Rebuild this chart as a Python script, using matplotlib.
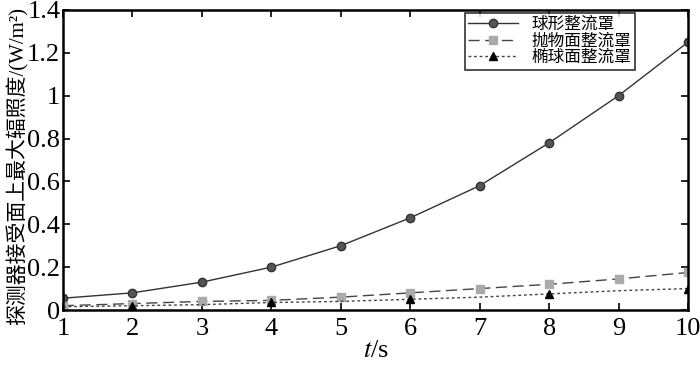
import matplotlib
matplotlib.use('Agg')
import matplotlib.pyplot as plt

plt.rcParams['font.family'] = ['Liberation Serif', 'Noto Sans CJK SC']
plt.rcParams['mathtext.fontset'] = 'stix'

t = [1, 2, 3, 4, 5, 6, 7, 8, 9, 10]
sphere = [0.055, 0.08, 0.13, 0.20, 0.30, 0.43, 0.58, 0.78, 1.00, 1.25]
parab = [0.02, 0.03, 0.04, 0.045, 0.06, 0.08, 0.10, 0.12, 0.145, 0.175]
ellip = [0.015, 0.02, 0.025, 0.035, 0.04, 0.05, 0.06, 0.075, 0.09, 0.10]
yticks = [0, 0.2, 0.4, 0.6, 0.8, 1, 1.2, 1.4]
ylabels = ['0', '0.2', '0.4', '0.6', '0.8', '1', '1.2', '1.4']

fig = plt.figure(figsize=(7, 3.66), dpi=100)
ax = fig.add_axes([0.09, 0.153, 0.893, 0.82])

ax.plot(t, sphere, '-', color='#333333', lw=1, marker='o', ms=6,
        mfc='#555555', mec='#333333', label='球形整流罩')
ax.plot(t, parab, '--', color='#444444', lw=1, dashes=(8, 4), marker='s', ms=6,
        mfc='#aaaaaa', mec='#aaaaaa', label='抛物面整流罩')
ax.plot(t, ellip, ':', color='#444444', lw=1, dashes=(2, 2), marker='^', ms=6,
        mfc='black', mec='black', markevery=[1, 3, 5, 7, 9], label='椭球面整流罩')

ax.set_xlim(1, 10)
ax.set_ylim(0, 1.4)
ax.set_xticks(t)
ax.set_yticks(yticks)
ax.set_yticklabels(ylabels)
ax.tick_params(direction='in', top=True, right=True, labelsize=19, length=5, width=1.2)
ax.tick_params(axis='x', pad=6)
ax.tick_params(axis='y', pad=2)
for s in ax.spines.values():
    s.set_linewidth(1.8)

ax.set_xlabel('$t$/s', fontsize=19, labelpad=0)
ax.set_ylabel('探测器接受面上最大辐照度/(W/m²)', fontsize=15, labelpad=0)
ax.yaxis.set_label_coords(-0.055, 0.48)

leg = ax.legend(loc='upper right', bbox_to_anchor=(0.92, 1.0), fontsize=12,
                fancybox=False, edgecolor='black', handlelength=3,
                borderpad=0.2, labelspacing=0.05, borderaxespad=0.2)
leg.get_frame().set_linewidth(1.2)

fig.savefig('out.png', dpi=100)
